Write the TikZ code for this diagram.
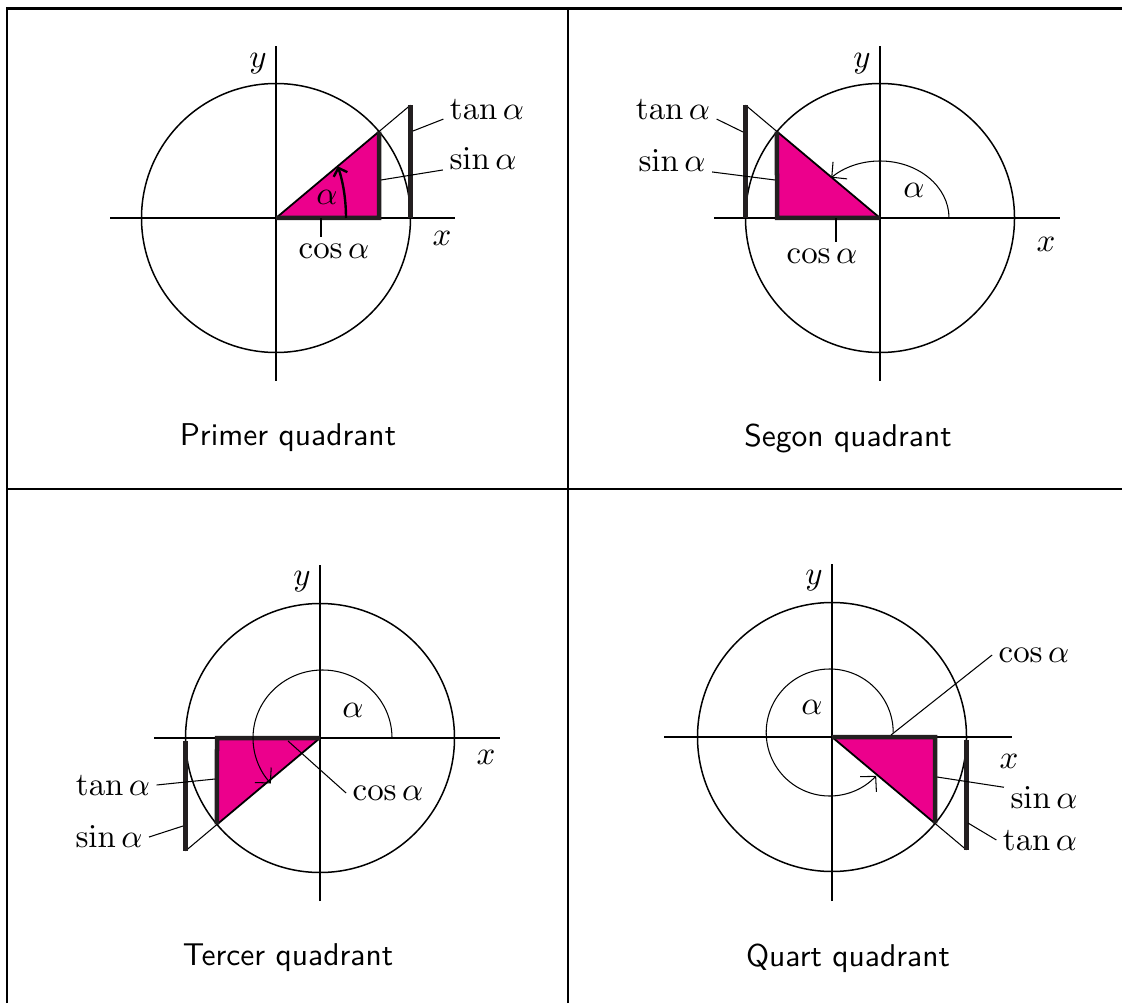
\documentclass[tikz,border=0pt]{standalone}
\usepackage{tikz}
\usetikzlibrary{positioning,arrows.meta}
\usepackage{amsmath}
\usepackage{xcolor}
\definecolor{QuadMagenta}{RGB}{236,0,140}
\definecolor{InkBlack}{RGB}{35,31,32}

\begin{document}
\begin{tikzpicture}[x=0.3333pt,y=0.3333pt,
      font=\fontsize{10.5}{12.6}\selectfont,
      >={Straight Barb[length=3.6pt,width=7.4pt]},
      frame/.style={line width=0.9pt},
      axis/.style={line width=0.45pt},
      unitcirc/.style={line width=0.5pt},
      seg/.style={line width=1.5pt,draw=InkBlack},
      hyp/.style={line width=0.6pt},
      thinline/.style={line width=0.35pt},
      angarc/.style={->,line width=0.35pt},
      leader/.style={line width=0.35pt},
      lbl/.style={inner sep=2pt},
      caption/.style={font=\fontsize{10.5}{12.6}\sffamily}]
    \useasboundingbox (0,0) rectangle (1122,1003);
    % table
    \draw[frame] (7,0) -- (7,994.5) -- (1122,994.5);
    \draw[frame] (568,0) -- (568,994.5);
    \draw[frame] (7,514) -- (1122,514);

    % primer quadrant
    \begin{scope}[shift={(276,785)}]
      \coordinate (o1) at (0,0);
      \coordinate (c1) at (103,0);
      \coordinate (p1) at (40:134.5);
      \coordinate (tb1) at (134.5,0);
      \coordinate (t1) at (134.5,112.9);
      \fill[QuadMagenta] (o1) -- (c1) -- (p1) -- cycle;
      \draw[unitcirc] (o1) circle[radius=134.5];
      \draw[axis] (-166,0) -- (179,0);
      \draw[axis] (0,-163) -- (0,172);
      \draw[hyp] (o1) -- (p1);
      \draw[thinline] (p1) -- (t1);
      \draw[seg] (o1) -- (c1) -- (p1);
      \draw[seg] (tb1) -- (t1);
      \draw[->,line width=0.8pt,>={Straight Barb[length=2.3pt,width=4.8pt]}]
        (70,0) arc[start angle=0,end angle=28,x radius=70,y radius=110];
      \node[lbl] (a1) at (51,21) {$\alpha$};
      \node[lbl] (x1) at (166,-20) {$x$};
      \node[lbl] (y1) at (-18,154) {$y$};
      \node[lbl] (tan1) at (211,109) {$\tan\alpha$};
      \node[lbl] (sin1) at (207,59) {$\sin\alpha$};
      \node[lbl] (cos1) at (58,-33) {$\cos\alpha$};
      \coordinate (tl1) at (137,87);
      \coordinate (sl1) at (105,38);
      \coordinate (cl1) at (45,0);
      \draw[leader] (tan1.base west) -- (tl1);
      \draw[leader] (sin1.base west) -- (sl1);
      \draw[leader] (cl1) -- (cl1 |- cos1.north);
    \end{scope}
    \node[caption] (cap1) at (288,565) {Primer quadrant};

    % segon quadrant
    \begin{scope}[shift={(880,785)}]
      \coordinate (o2) at (0,0);
      \coordinate (c2) at (-103,0);
      \coordinate (p2) at (140:134.5);
      \coordinate (tb2) at (-134.5,0);
      \coordinate (t2) at (-134.5,112.9);
      \fill[QuadMagenta] (o2) -- (c2) -- (p2) -- cycle;
      \draw[unitcirc] (o2) circle[radius=134.5];
      \draw[axis] (-166,0) -- (180,0);
      \draw[axis] (0,-163) -- (0,172);
      \draw[hyp] (o2) -- (p2);
      \draw[thinline] (p2) -- (t2);
      \draw[seg] (o2) -- (c2) -- (p2);
      \draw[seg] (tb2) -- (t2);
      \draw[angarc] (69,0) arc[start angle=0,end angle=135,x radius=69,y radius=57];
      \node[lbl] (a2) at (34,28) {$\alpha$};
      \node[lbl] (x2) at (166,-26) {$x$};
      \node[lbl] (y2) at (-18,154) {$y$};
      \node[lbl] (tan2) at (-207,109) {$\tan\alpha$};
      \node[lbl] (sin2) at (-208,57) {$\sin\alpha$};
      \node[lbl] (cos2) at (-58,-38) {$\cos\alpha$};
      \coordinate (tl2) at (-137,86);
      \coordinate (sl2) at (-105,38);
      \coordinate (cl2) at (-44,0);
      \draw[leader] (tan2.base east) -- (tl2);
      \draw[leader] (sin2.base east) -- (sl2);
      \draw[leader] (cl2) -- (cl2 |- cos2.north);
    \end{scope}
    \node[caption] (cap2) at (848,565) {Segon quadrant};

    % tercer quadrant
    \begin{scope}[shift={(320,265)}]
      \coordinate (o3) at (0,0);
      \coordinate (c3) at (-103,0);
      \coordinate (p3) at (220:134.5);
      \coordinate (tb3) at (-134.5,-3);
      \coordinate (t3) at (-134.5,-112.9);
      \fill[QuadMagenta] (o3) -- (c3) -- (p3) -- cycle;
      \draw[unitcirc] (o3) circle[radius=134.5];
      \draw[axis] (-166,0) -- (180,0);
      \draw[axis] (0,-163) -- (0,173);
      \draw[hyp] (o3) -- (p3);
      \draw[thinline] (p3) -- (t3);
      \draw[seg] (o3) -- (c3) -- (p3);
      \draw[seg] (tb3) -- (t3);
      \draw[angarc] (72,0) arc[start angle=0,end angle=222,x radius=69.5,y radius=68];
      \node[lbl] (a3) at (33,28) {$\alpha$};
      \node[lbl] (x3) at (166,-19) {$x$};
      \node[lbl] (y3) at (-18,156) {$y$};
      \node[lbl] (tan3) at (-207,-47) {$\tan\alpha$};
      \node[lbl] (sin3) at (-211,-99) {$\sin\alpha$};
      \node[lbl] (cos3) at (68,-55) {$\cos\alpha$};
      \coordinate (tl3) at (-105,-41);
      \coordinate (sl3) at (-137,-88);
      \coordinate (cl3) at (-32,-3);
      \draw[leader] (tan3.east) -- (tl3);
      \draw[leader] (sin3.east) -- (sl3);
      \draw[leader] (cos3.west) -- (cl3);
    \end{scope}
    \node[caption] (cap3) at (288,45) {Tercer quadrant};

    % quart quadrant
    \begin{scope}[shift={(832,266)}]
      \coordinate (o4) at (0,0);
      \coordinate (c4) at (103,0);
      \coordinate (p4) at (320:134.5);
      \coordinate (tb4) at (134.5,-3);
      \coordinate (t4) at (134.5,-112.9);
      \fill[QuadMagenta] (o4) -- (c4) -- (p4) -- cycle;
      \draw[unitcirc] (o4) circle[radius=134.5];
      \draw[axis] (-168,0) -- (180,0);
      \draw[axis] (0,-164) -- (0,173);
      \draw[hyp] (o4) -- (p4);
      \draw[thinline] (p4) -- (t4);
      \draw[seg] (o4) -- (c4) -- (p4);
      \draw[seg] (tb4) -- (t4);
      \draw[angarc] (61.2,4.5) arc[start angle=0,end angle=317,radius=63.5];
      \node[lbl] (a4) at (-20,30) {$\alpha$};
      \node[lbl] (x4) at (177,-24) {$x$};
      \node[lbl] (y4) at (-18,156) {$y$};
      \node[lbl] (cos4) at (202,82) {$\cos\alpha$};
      \node[lbl] (sin4) at (212,-61) {$\sin\alpha$};
      \node[lbl] (tan4) at (208,-103) {$\tan\alpha$};
      \coordinate (cl4) at (59,2);
      \coordinate (sl4) at (105,-40);
      \coordinate (tl4) at (136,-86);
      \draw[leader] (cos4.west) -- (cl4);
      \draw[leader] (sin4.165) -- (sl4);
      \draw[leader] (tan4.west) -- (tl4);
    \end{scope}
    \node[caption] (cap4) at (848,45) {Quart quadrant};
  \end{tikzpicture}
\end{document}
